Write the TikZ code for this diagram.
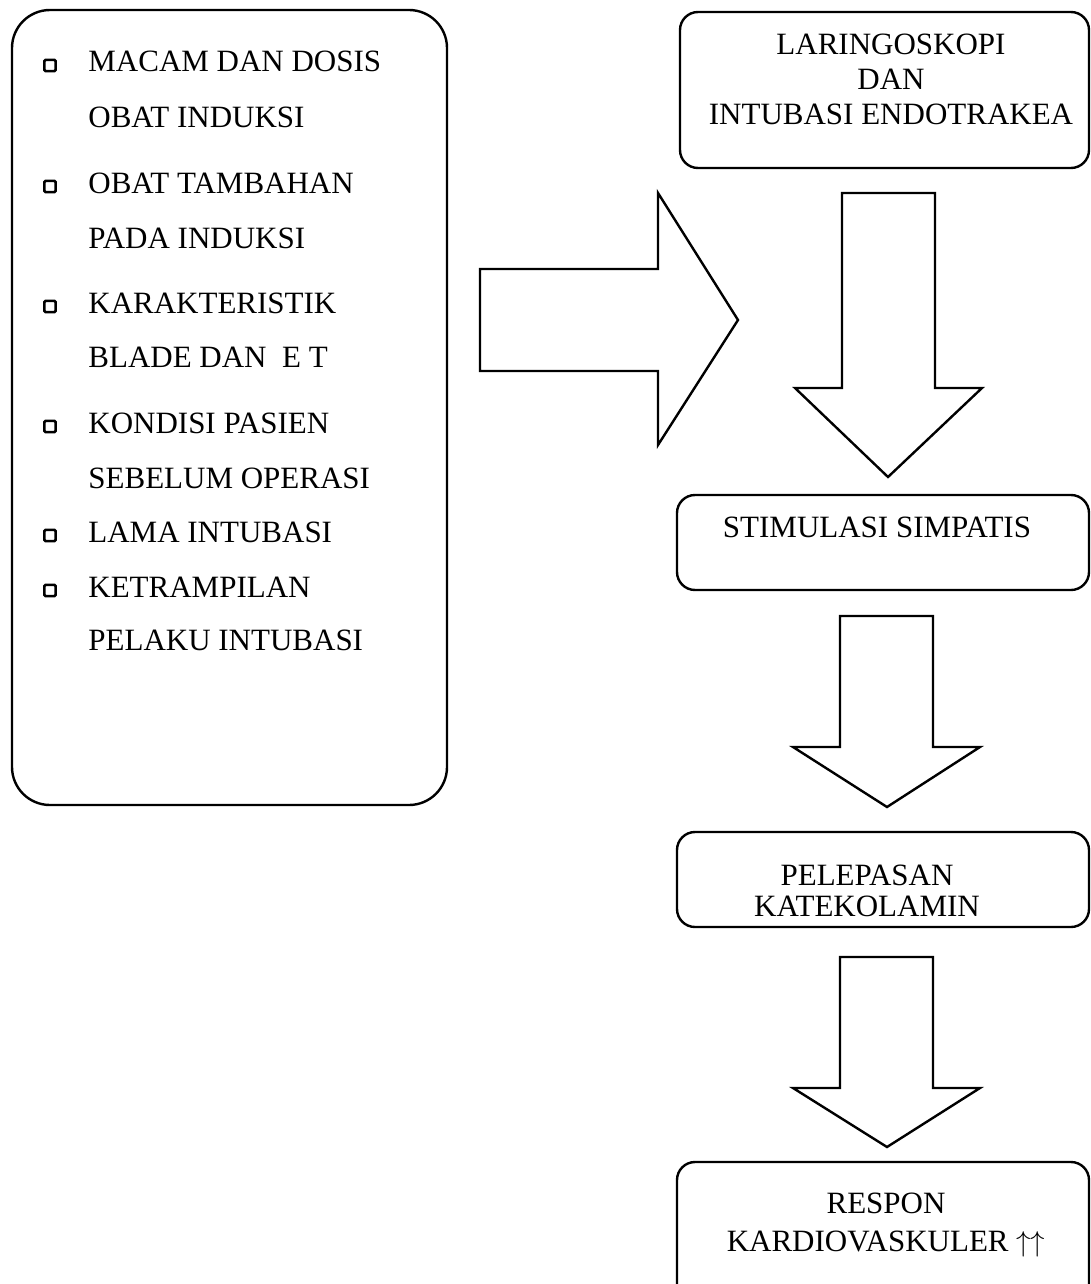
\documentclass[tikz,border=0pt]{standalone}
\usepackage{fontspec}
\setmainfont{Liberation Serif}
\begin{document}
\begin{tikzpicture}[x=0.5pt,y=-0.5pt,
  txt/.style={inner sep=0pt,font=\fontsize{15.5}{18}\selectfont},
  ltxt/.style={txt,anchor=base west},
  ctxt/.style={txt,anchor=base},
  bigbox/.style={draw,line width=1.2pt,rounded corners=19pt,inner sep=0pt},
  flowbox/.style={draw,line width=1.2pt,rounded corners=9pt,inner sep=0pt,minimum width=206pt},
  bulletbox/.style={draw,line width=1.3pt,rounded corners=0.6pt,inner sep=0pt,minimum size=5.6pt},
  blockarrow/.style={draw,line width=1.2pt,line join=miter,fill=white}]
\useasboundingbox (0,0) rectangle (1091,1284);
\clip (0,0) rectangle (1091,1284);
\fill[white] (0,0) rectangle (1091,1284);

% left box
\node[bigbox,minimum width=217.5pt,minimum height=397.5pt] (left) at (229.5,407.5) {};
\node[bulletbox] (q1) at (50,65.5) {};
\node[ltxt] (l1) at (88,72) {MACAM DAN DOSIS};
\node[ltxt] (l2) at (88,127) {OBAT INDUKSI};
\node[bulletbox] (q2) at (50,186.5) {};
\node[ltxt] (l3) at (88,193) {OBAT TAMBAHAN};
\node[ltxt] (l4) at (88,248) {PADA INDUKSI};
\node[bulletbox] (q3) at (50,306.5) {};
\node[ltxt] (l5) at (88,313) {KARAKTERISTIK};
\node[ltxt] (l6) at (88,367) {BLADE DAN\ \ E T};
\node[bulletbox] (q4) at (50,426.5) {};
\node[ltxt] (l7) at (88,433) {KONDISI PASIEN};
\node[ltxt] (l8) at (88,488) {SEBELUM OPERASI};
\node[bulletbox] (q5) at (50,535.5) {};
\node[ltxt] (l9) at (88,542) {LAMA INTUBASI};
\node[bulletbox] (q6) at (50,590.5) {};
\node[ltxt] (l10) at (88,597) {KETRAMPILAN};
\node[ltxt] (l11) at (88,650) {PELAKU INTUBASI};

% right boxes
\node[flowbox,minimum width=204.5pt,minimum height=78pt] (b1) at (884.5,90) {};
\node[ctxt] (b1a) at (891,55) {LARINGOSKOPI};
\node[ctxt] (b1b) at (891,90) {DAN};
\node[ctxt] (b1c) at (891,125) {INTUBASI ENDOTRAKEA};

\node[flowbox,minimum width=206pt,minimum height=47.5pt] (b2) at (883,542.5) {};
\node[ctxt] (b2a) at (877,537) {STIMULASI SIMPATIS};

\node[flowbox,minimum width=206pt,minimum height=47.5pt] (b3) at (883,879.5) {};
\node[ctxt] (b3a) at (867,885) {PELEPASAN};
\node[ctxt] (b3b) at (867,916) {KATEKOLAMIN};

\node[flowbox,minimum width=206pt,minimum height=90pt] (b4) at (883,1252) {};
\node[ctxt] (b4a) at (886,1213) {RESPON};
\node[ctxt] (b4b) at (886,1251) {KARDIOVASKULER $\uparrow\uparrow$};

% block arrows
\draw[blockarrow] (480,269) -- (658,269) -- (658,193) -- (738,320) -- (658,445) -- (658,371) -- (480,371) -- cycle;
\draw[blockarrow] (842,193) -- (935,193) -- (935,388) -- (982,388) -- (888,477) -- (795,388) -- (842,388) -- cycle;
\draw[blockarrow] (840,616) -- (933,616) -- (933,747) -- (980,747) -- (887,807) -- (793,747) -- (840,747) -- cycle;
\draw[blockarrow] (840,957) -- (933,957) -- (933,1088) -- (980,1088) -- (887,1147) -- (793,1088) -- (840,1088) -- cycle;
\end{tikzpicture}
\end{document}
